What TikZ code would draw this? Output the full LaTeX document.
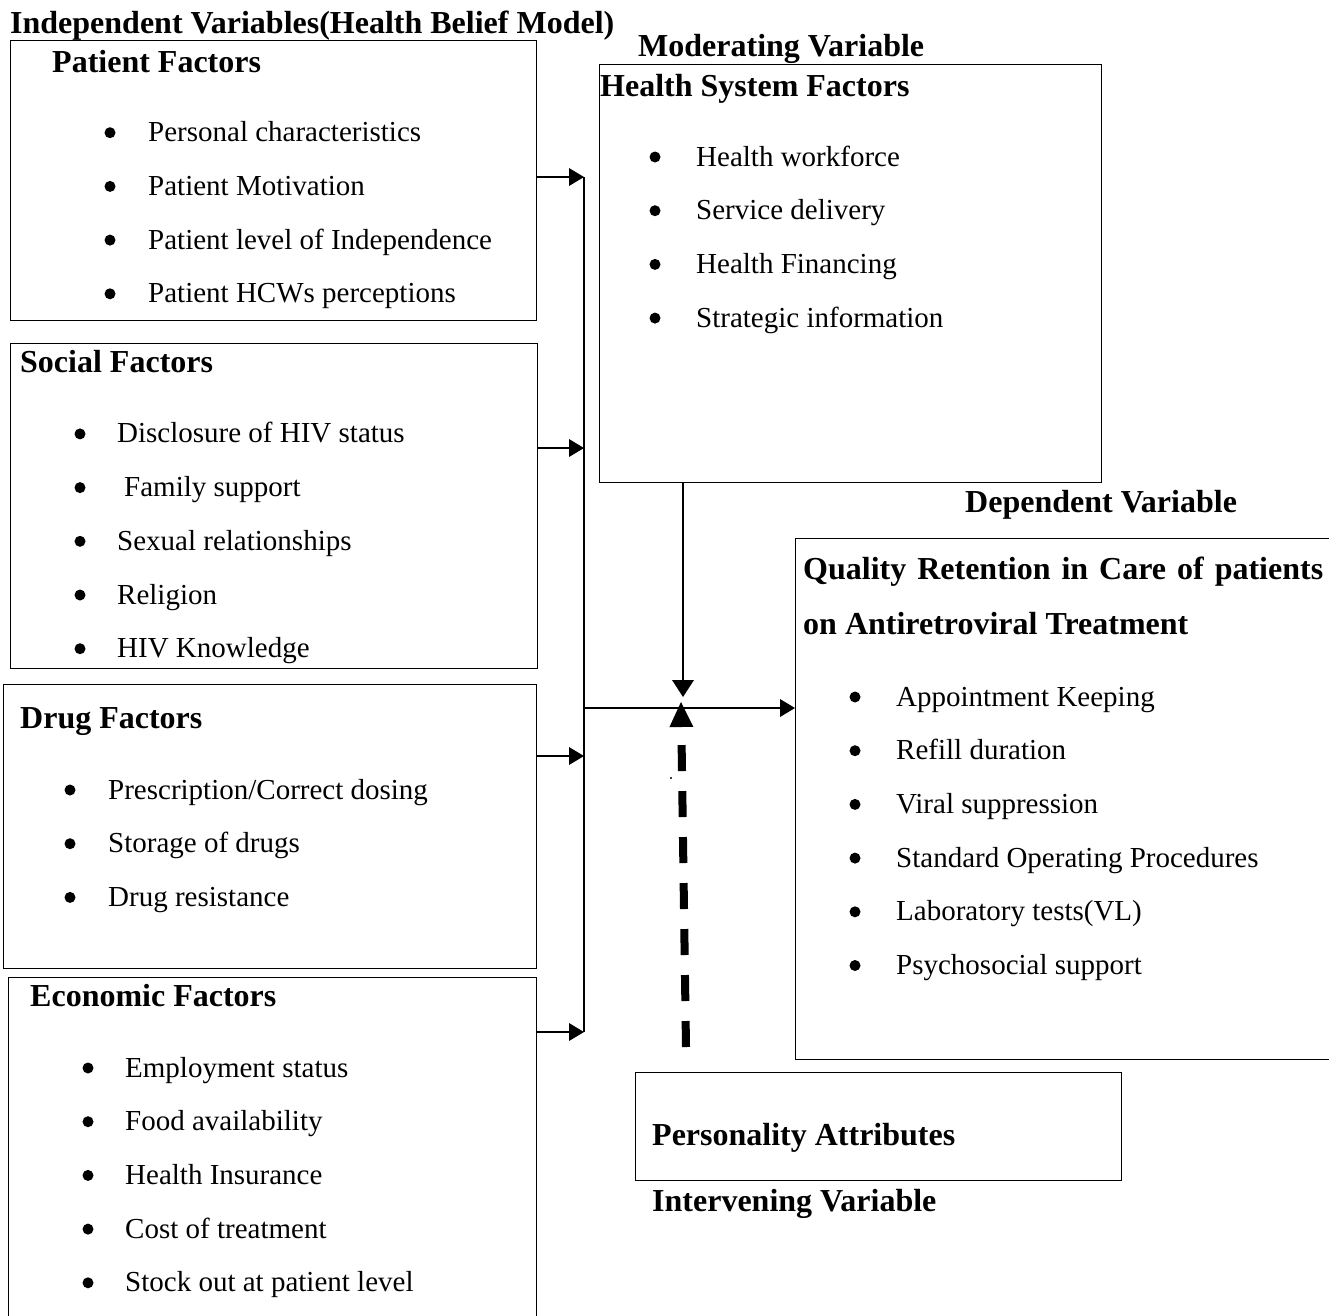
\documentclass[tikz,border=0pt]{standalone}
\usepackage{fontspec}
\setmainfont{Liberation Serif}
\usetikzlibrary{arrows.meta}

\tikzset{
    box/.style={draw, line width=1.4pt, anchor=north west, inner sep=0pt},
    head/.style={anchor=base west, inner sep=0pt, font=\fontsize{32pt}{36pt}\selectfont\bfseries},
    item/.style={anchor=base west, inner sep=0pt, font=\fontsize{29pt}{34pt}\selectfont},
    link/.style={line width=2pt, -{Triangle[length=15pt,width=18pt,line width=0pt]}},
}

\begin{document}
\begin{tikzpicture}[x=1pt, y=-1pt]
    \useasboundingbox (0,0) rectangle (1329,1315);

    % boxes
    \node[box, minimum width=526pt, minimum height=280pt] (patient) at (10,40) {};
    \node[box, minimum width=527pt, minimum height=325pt] (social) at (10,343) {};
    \node[box, minimum width=533pt, minimum height=284pt] (drug) at (3,684) {};
    \node[box, minimum width=528pt, minimum height=345pt] (economic) at (8,977) {};
    \node[box, minimum width=502pt, minimum height=418pt] (health) at (599,64) {};
    \node[box, minimum width=534pt, minimum height=521pt] (quality) at (795,538) {};
    \node[box, minimum width=486pt, minimum height=108pt] (person) at (635,1072) {};

    % headings (baselines)
    \node[head] (indep) at (10,33) {Independent Variables(Health Belief Model)};
    \node[head] (moder) at (638,56) {Moderating Variable};
    \node[head] (depend) at (965,512) {Dependent Variable};
    \node[head] (interv) at (652,1211) {Intervening Variable};

    \node[head] (patient-t) at (52,72) {Patient Factors};
    \node[head] (social-t) at (20,372) {Social Factors};
    \node[head] (drug-t) at (20,728) {Drug Factors};
    \node[head] (economic-t) at (30,1006) {Economic Factors};
    \node[head] (health-t) at (600,96) {Health System Factors};
    \node[head] (quality-t) at (803,579) {\makebox[520pt][s]{Quality Retention in Care of patients}};
    \node[head] (quality-u) at (803,634) {on Antiretroviral Treatment};
    \node[head] (person-t) at (652,1145) {Personality Attributes};

    % bullet lists
    \foreach \txt [count=\i] in {Personal characteristics, Patient Motivation,
            Patient level of Independence, Patient HCWs perceptions} {
        \pgfmathsetmacro{\y}{79 + 53.7*\i}
        \fill (110,\y) circle (5.5pt);
        \node[item] (patient-\i) at (148,\y+9) {\txt};
    }
    \foreach \txt/\x [count=\i] in {Disclosure of HIV status/117, Family support/124,
            Sexual relationships/117, Religion/117, HIV Knowledge/117} {
        \pgfmathsetmacro{\y}{380.2 + 53.7*\i}
        \fill (80,\y) circle (5.5pt);
        \node[item] (social-\i) at (\x,\y+9) {\txt};
    }
    \foreach \txt [count=\i] in {Prescription/Correct dosing, Storage of drugs, Drug resistance} {
        \pgfmathsetmacro{\y}{736.3 + 53.7*\i}
        \fill (70,\y) circle (5.5pt);
        \node[item] (drug-\i) at (108,\y+9) {\txt};
    }
    \foreach \txt [count=\i] in {Employment status, Food availability, Health Insurance,
            Cost of treatment, Stock out at patient level} {
        \pgfmathsetmacro{\y}{1014.3 + 53.7*\i}
        \fill (88,\y) circle (5.5pt);
        \node[item] (economic-\i) at (125,\y+9) {\txt};
    }
    \foreach \txt [count=\i] in {Health workforce, Service delivery, Health Financing,
            Strategic information} {
        \pgfmathsetmacro{\y}{103.3 + 53.7*\i}
        \fill (655,\y) circle (5.5pt);
        \node[item] (health-\i) at (696,\y+9) {\txt};
    }
    \foreach \txt [count=\i] in {Appointment Keeping, Refill duration, Viral suppression,
            Standard Operating Procedures, Laboratory tests(VL), Psychosocial support} {
        \pgfmathsetmacro{\y}{643.3 + 53.7*\i}
        \fill (855,\y) circle (5.5pt);
        \node[item] (quality-\i) at (896,\y+9) {\txt};
    }

    % connectors
    \coordinate (bus-top) at (584,177);
    \coordinate (bus-soc) at (584,448);
    \coordinate (bus-mid) at (584,708);
    \coordinate (bus-drug) at (584,756);
    \coordinate (bus-end) at (584,1032);
    \coordinate (meet) at (683,697);
    \coordinate (dash-end) at (686,1047);
    \coordinate (dash-tip) at (681,702);

    \draw[line width=2pt] (bus-top) -- (bus-end);
    \draw[link] (patient.east |- bus-top) -- (bus-top);
    \draw[link] (social.east |- bus-soc) -- (bus-soc);
    \draw[link] (drug.east |- bus-drug) -- (bus-drug);
    \draw[link] (economic.east |- bus-end) -- (bus-end);
    \draw[link] (bus-mid) -- (quality.west |- bus-mid);
    \draw[line width=2.4pt, -{Triangle[length=17pt,width=22pt,line width=0pt]}]
        (meet |- health.south) -- (meet);
    \draw[line width=8pt, dash pattern=on 26pt off 20pt,
        -{Triangle[length=25pt,width=24pt,line width=0pt]}] (dash-end) -- (dash-tip);
    \fill (671,778) circle (1.2pt);
\end{tikzpicture}
\end{document}
